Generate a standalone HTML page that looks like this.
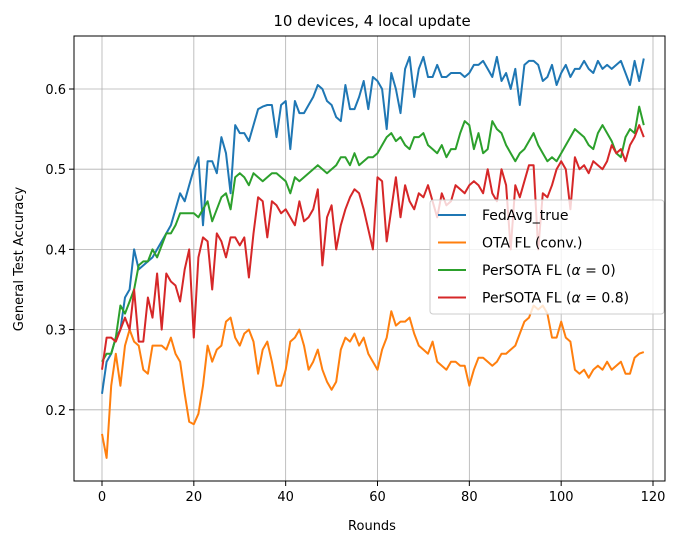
<!DOCTYPE html>
<html><head><meta charset="utf-8"><style>
body{margin:0;background:#fff;}
svg{font-family:"DejaVu Sans","Liberation Sans",sans-serif;}
</style></head><body>
<svg id="chart" width="681" height="546" xmlns="http://www.w3.org/2000/svg">
<rect width="681" height="546" fill="#fff"/>
<g id="grid"></g>
<g id="series"></g>
<rect x="74" y="36" width="591" height="445" fill="none" stroke="#000" stroke-width="1"/>
<g id="ticks"></g>
<text x="372" y="26" text-anchor="middle" font-size="15">10 devices, 4 local update</text>
<text x="372" y="530" text-anchor="middle" font-size="13">Rounds</text>
<text transform="translate(23,259) rotate(-90)" text-anchor="middle" font-size="13">General Test Accuracy</text>
<g id="legend"></g>
</svg>
<script>
const xTicks=[0,20,40,60,80,100,120];
const yTicks=[0.2,0.3,0.4,0.5,0.6];
const yTickLabels=["0.2","0.3","0.4","0.5","0.6"];
const seriesNames=["FedAvg_true","OTA FL (conv.)","PerSOTA FL (α = 0)","PerSOTA FL (α = 0.8)"];
const seriesColors=["#1f77b4","#ff7f0e","#2ca02c","#d62728"];
const fedavg=[0.22,0.26,0.27,0.29,0.30,0.34,0.35,0.40,0.375,0.38,
0.385,0.39,0.40,0.41,0.42,0.43,0.45,0.47,0.46,0.48,
0.50,0.515,0.43,0.51,0.51,0.495,0.54,0.52,0.47,0.555,
0.545,0.545,0.535,0.555,0.575,0.578,0.58,0.58,0.54,0.58,
0.585,0.525,0.585,0.57,0.57,0.58,0.59,0.605,0.60,0.585,
0.58,0.565,0.56,0.605,0.575,0.575,0.59,0.61,0.575,0.615,
0.61,0.60,0.55,0.62,0.60,0.57,0.625,0.64,0.59,0.625,
0.64,0.615,0.615,0.63,0.615,0.615,0.62,0.62,0.62,0.615,
0.62,0.63,0.63,0.635,0.625,0.615,0.64,0.61,0.62,0.60,
0.625,0.58,0.63,0.635,0.635,0.63,0.61,0.615,0.63,0.605,
0.62,0.63,0.615,0.625,0.625,0.635,0.625,0.62,0.635,0.625,
0.63,0.625,0.63,0.635,0.62,0.605,0.635,0.61,0.638];
const ota=[0.17,0.14,0.23,0.27,0.23,0.28,0.30,0.285,0.28,0.25,
0.245,0.28,0.28,0.28,0.275,0.29,0.27,0.26,0.22,0.185,
0.182,0.195,0.23,0.28,0.26,0.275,0.28,0.31,0.315,0.29,
0.28,0.295,0.30,0.285,0.245,0.275,0.285,0.26,0.23,0.23,
0.25,0.285,0.29,0.30,0.28,0.25,0.26,0.275,0.25,0.235,
0.225,0.235,0.275,0.29,0.285,0.295,0.28,0.29,0.27,0.26,
0.25,0.275,0.29,0.323,0.305,0.31,0.31,0.315,0.295,0.28,
0.275,0.27,0.285,0.26,0.255,0.25,0.26,0.26,0.255,0.255,
0.23,0.25,0.265,0.265,0.26,0.255,0.26,0.27,0.27,0.275,
0.28,0.295,0.31,0.315,0.33,0.325,0.33,0.32,0.29,0.29,
0.31,0.29,0.285,0.25,0.245,0.25,0.24,0.25,0.255,0.25,
0.26,0.25,0.255,0.26,0.245,0.245,0.265,0.27,0.272];
const pers0=[0.26,0.27,0.27,0.29,0.33,0.32,0.335,0.35,0.38,0.385,
0.385,0.40,0.39,0.405,0.42,0.42,0.43,0.445,0.445,0.445,
0.445,0.44,0.45,0.46,0.435,0.45,0.465,0.47,0.45,0.49,
0.495,0.49,0.48,0.495,0.49,0.485,0.49,0.495,0.495,0.49,
0.485,0.47,0.49,0.485,0.49,0.495,0.50,0.505,0.50,0.495,
0.50,0.505,0.515,0.515,0.505,0.52,0.505,0.51,0.515,0.515,
0.52,0.53,0.54,0.545,0.535,0.54,0.53,0.525,0.54,0.54,
0.545,0.53,0.525,0.52,0.53,0.515,0.525,0.525,0.545,0.56,
0.555,0.525,0.545,0.52,0.525,0.56,0.55,0.545,0.53,0.52,
0.51,0.52,0.525,0.535,0.545,0.53,0.52,0.51,0.515,0.51,
0.52,0.53,0.54,0.55,0.545,0.54,0.53,0.525,0.545,0.555,
0.545,0.535,0.52,0.515,0.54,0.55,0.545,0.578,0.555];
const pers08=[0.25,0.29,0.29,0.285,0.30,0.315,0.30,0.35,0.285,0.285,
0.34,0.315,0.37,0.30,0.37,0.36,0.355,0.335,0.375,0.40,
0.29,0.39,0.415,0.41,0.35,0.42,0.41,0.39,0.415,0.415,
0.405,0.415,0.365,0.42,0.465,0.46,0.415,0.46,0.455,0.445,
0.45,0.44,0.43,0.46,0.435,0.44,0.45,0.475,0.38,0.44,
0.455,0.40,0.43,0.45,0.465,0.475,0.47,0.45,0.425,0.40,
0.49,0.485,0.41,0.45,0.49,0.44,0.48,0.46,0.45,0.47,
0.465,0.48,0.46,0.44,0.47,0.455,0.46,0.48,0.475,0.47,
0.48,0.485,0.48,0.47,0.50,0.47,0.46,0.50,0.48,0.40,
0.48,0.465,0.485,0.505,0.505,0.40,0.47,0.465,0.48,0.50,
0.51,0.50,0.45,0.515,0.50,0.505,0.495,0.51,0.505,0.50,
0.51,0.53,0.52,0.525,0.51,0.53,0.54,0.555,0.54];
const allSeries=[fedavg,ota,pers0,pers08];
const seriesKeys=["fedavg-line","ota-line","persota-alpha0-line","persota-alpha08-line"];

const NS="http://www.w3.org/2000/svg";
function xs(v){return 102+v*(551/120);}
function ys(v){return 89+(0.6-v)*802;}
function mk(t,a,p){const e=document.createElementNS(NS,t);for(const k in a)e.setAttribute(k,a[k]);p.appendChild(e);return e;}
const grid=document.getElementById('grid'),ticks=document.getElementById('ticks');
xTicks.forEach(t=>{
 const gl=mk('line',{x1:xs(t),x2:xs(t),y1:36,y2:481,stroke:'#b0b0b0','stroke-width':0.8},grid);
 
 
 mk('line',{x1:xs(t),x2:xs(t),y1:481,y2:486,stroke:'#000'},ticks);
 const tx=mk('text',{x:xs(t),y:501,'text-anchor':'middle','font-size':13},ticks);
 tx.textContent=t;
 
 
});
yTicks.forEach((t,i)=>{
 const gl=mk('line',{x1:74,x2:665,y1:ys(t),y2:ys(t),stroke:'#b0b0b0','stroke-width':0.8},grid);
 
 
 mk('line',{x1:69,x2:74,y1:ys(t),y2:ys(t),stroke:'#000'},ticks);
 const tx=mk('text',{x:66,y:ys(t)+5,'text-anchor':'end','font-size':13},ticks);
 tx.textContent=yTickLabels[i];
 
 
});
const sg=document.getElementById('series');
allSeries.forEach((s,k)=>{
 const d=s.map((v,i)=>(i?'L':'M')+xs(i).toFixed(1)+','+ys(v).toFixed(1)).join('');
 const p=mk('path',{d:d,fill:'none',stroke:seriesColors[k],'stroke-width':2,'stroke-linejoin':'round'},sg);
 
 
});
const lg=document.getElementById('legend');
const box=mk('rect',{x:430,y:200,width:234,height:114,rx:3,fill:'#fff','fill-opacity':0.8,stroke:'#ccc'},lg);


seriesNames.forEach((n,k)=>{
 const y=215+k*27.5;
 mk('line',{x1:438,x2:466,y1:y,y2:y,stroke:seriesColors[k],'stroke-width':2},lg);
 const t=mk('text',{x:482,y:y+5,'font-size':14},lg);
 const ai=n.indexOf('α');
 if(ai<0){t.textContent=n;}
 else{
  t.appendChild(document.createTextNode(n.slice(0,ai)));
  const ts=mk('tspan',{'font-style':'italic'},t);ts.textContent='α';
  t.appendChild(document.createTextNode(n.slice(ai+1).replace(/ = /,' = ')));
 }
 
 
});
</script>
</body></html>
